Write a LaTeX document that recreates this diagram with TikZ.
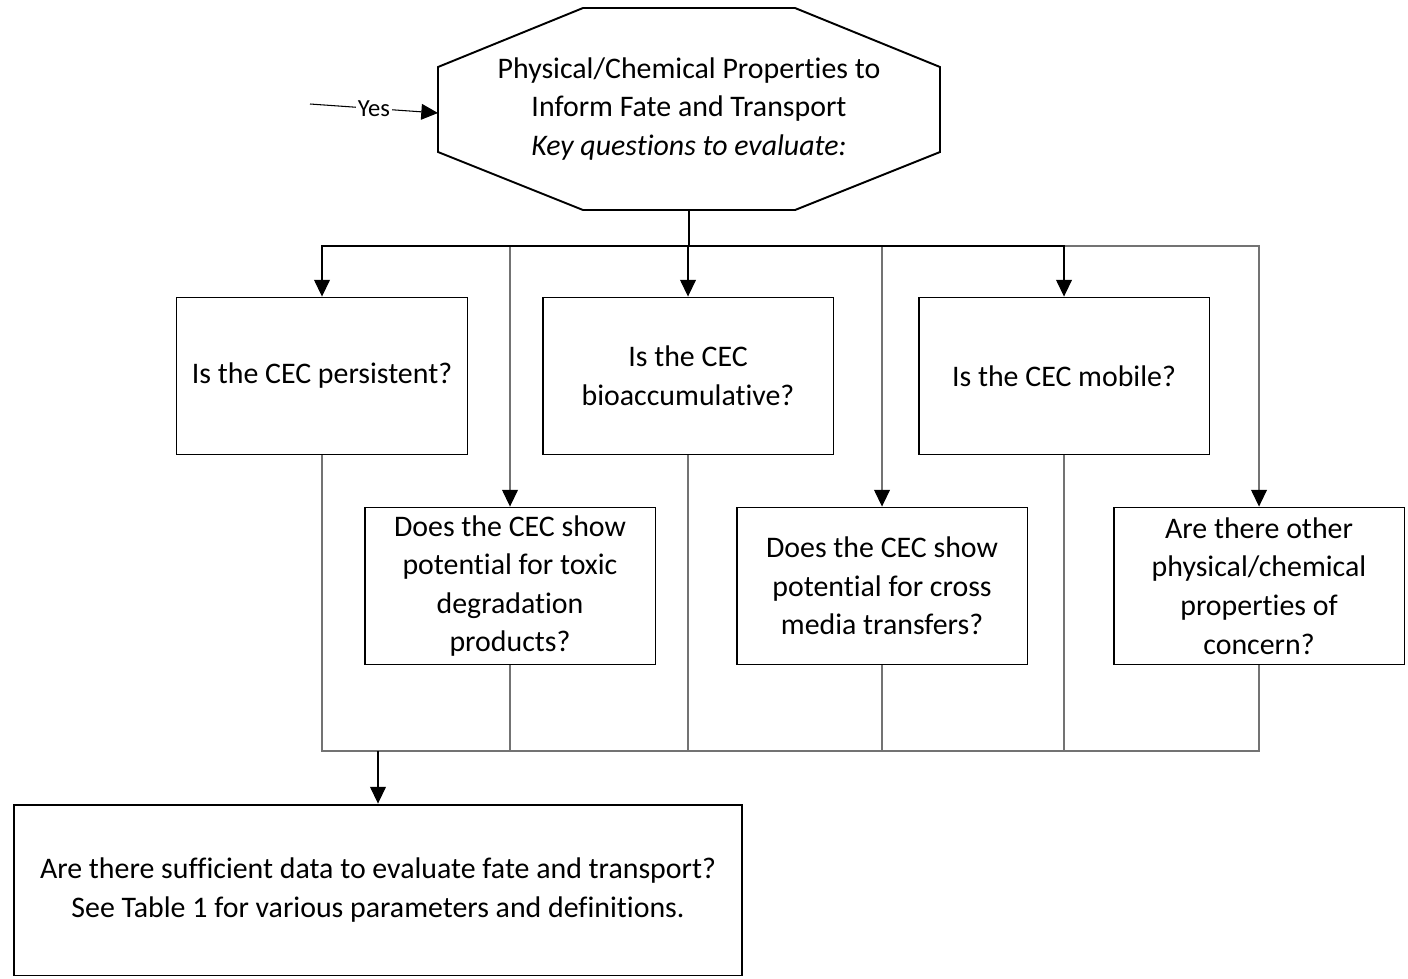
\documentclass[tikz,border=0pt]{standalone}
\usepackage{fontspec}
\setmainfont[Ligatures=NoCommon]{Carlito}
\usetikzlibrary{arrows.meta}

\begin{document}
\begin{tikzpicture}[
    x=0.02cm, y=-0.02cm,
    question/.style={draw, line width=1.1pt, minimum width=5.82cm, minimum height=3.14cm,
        align=center, font=\fontsize{17}{22}\selectfont},
    link/.style={line width=0.6pt},
    pass/.style={link, draw=black!55},
    arrow/.style={link, -{Triangle[length=9.5pt, width=9pt, color=black]}}
]
    \useasboundingbox (0,0) rectangle (1408,978);

    % octagon at the top
    \draw[line width=1.1pt] (583,8) -- (795,8) -- (940,67) -- (940,152) -- (795,210)
        -- (583,210) -- (438,152) -- (438,67) -- cycle;
    \node[align=center, font=\fontsize{17}{22}\selectfont] (props) at (689,109)
        {Physical/Chemical Properties to\\Inform Fate and Transport\\\textit{Key questions to evaluate:}};
    \coordinate (props-w) at (438,113);
    \coordinate (props-s) at (689,210);
    \coordinate (yes-start) at (310,104);
    \draw[arrow] (yes-start) -- node[fill=white, inner sep=1pt, font=\fontsize{14}{16}\selectfont] {Yes} (props-w);

    % question boxes
    \node[question] (persist) at (322,376) {Is the CEC persistent?};
    \node[question] (bioacc) at (688,376) {Is the CEC\\bioaccumulative?};
    \node[question] (mobile) at (1064,376) {Is the CEC mobile?};
    \node[question] (toxic) at (510,586) {Does the CEC show\\potential for toxic\\degradation\\products?};
    \node[question] (cross) at (882,586) {Does the CEC show\\potential for cross\\media transfers?};
    \node[question] (other) at (1259,586) {Are there other\\physical/chemical\\properties of\\concern?};

    \node[question, minimum width=14.56cm, minimum height=3.42cm] (data) at (378,890)
        {Are there sufficient data to evaluate fate and transport?\\See Table 1 for various parameters and definitions.};

    % split and merge
    \coordinate (split) at (689,246);
    \coordinate (merge) at (378,751);
    \draw[link] (props-s) -- (split);
    \foreach \q in {toxic, cross, other}
        \draw[arrow, pass] (split) -| (\q.north);
    \foreach \q in {persist, bioacc, mobile}
        \draw[arrow] (split) -| (\q.north);
    \foreach \q in {persist, bioacc, mobile, toxic, cross, other}
        \draw[pass] (\q.south) |- (merge);
    \draw[arrow] (merge) -- (data.north);
\end{tikzpicture}
\end{document}
